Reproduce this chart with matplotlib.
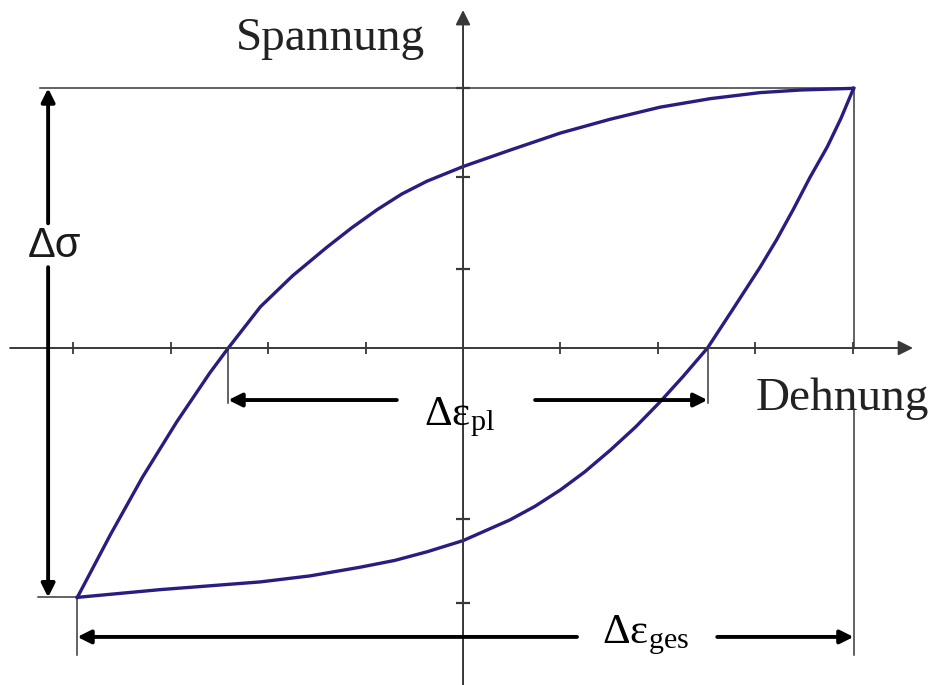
import numpy as np
import matplotlib.pyplot as plt

plt.rcParams['mathtext.fontset'] = 'custom'
plt.rcParams['mathtext.rm'] = 'Liberation Serif'

# hysteresis loop, strain (x) vs stress (y), schematic units
upper_eps = [-3.96, -3.62, -3.29, -2.94, -2.60, -2.41, -2.08, -1.75, -1.40,
             -1.14, -0.88, -0.63, -0.37, 0.00, 0.48, 1.00, 1.51, 2.02,
             2.54, 3.05, 3.46, 3.74, 4.01]
upper_sig = [-2.90, -2.17, -1.50, -0.86, -0.29, 0.00, 0.48, 0.84, 1.17,
             1.40, 1.61, 1.79, 1.94, 2.11, 2.30, 2.50, 2.66, 2.80,
             2.90, 2.97, 3.00, 3.01, 3.02]
lower_eps = [-3.96, -3.11, -2.08, -1.57, -1.06, -0.70, -0.37, 0.00, 0.48,
             0.74, 1.00, 1.25, 1.51, 1.77, 2.02, 2.26, 2.51, 2.77, 3.05,
             3.22, 3.39, 3.56, 3.74, 3.88, 4.01]
lower_sig = [-2.90, -2.81, -2.72, -2.65, -2.55, -2.47, -2.37, -2.24, -2.00,
             -1.84, -1.65, -1.44, -1.19, -0.92, -0.63, -0.33, 0.00, 0.45,
             0.94, 1.26, 1.61, 1.98, 2.34, 2.67, 3.02]

x_ticks = [-4, -3, -2, -1, 1, 2, 3, 4]
y_ticks = [3.02, 1.99, 0.92, -1.99, -2.97]

eps_pl = (-2.41, 2.51)          # zero crossings of the loop
eps_min, eps_max = -3.96, 4.01
sig_min, sig_max = -2.90, 3.02

loop_col = '#281d80'
ax_col = '#383838'

fig = plt.figure(figsize=(9.36, 6.85), dpi=100)
ax = fig.add_axes([0, 0, 1, 1])
ax.set_xlim(-4.754, 4.856)
ax.set_ylim(-3.919, 4.047)
ax.axis('off')

# coordinate axes with arrow heads
ax.annotate('', xy=(4.62, 0), xytext=(-4.65, 0),
            arrowprops=dict(arrowstyle='-|>', color=ax_col, lw=1.4,
                            mutation_scale=22, shrinkA=0, shrinkB=0))
ax.annotate('', xy=(0, 3.93), xytext=(0, -3.92),
            arrowprops=dict(arrowstyle='-|>', color=ax_col, lw=1.4,
                            mutation_scale=22, shrinkA=0, shrinkB=0))
for t in x_ticks:
    ax.plot([t, t], [-0.07, 0.07], color=ax_col, lw=1.3,
            solid_capstyle='butt')
for t in y_ticks:
    ax.plot([-0.07, 0.07], [t, t], color=ax_col, lw=1.6,
            solid_capstyle='butt')

# thin guide lines
thin = dict(color=ax_col, lw=1.1)
ax.plot([-4.34, eps_max], [sig_max, sig_max], **thin)
ax.plot([-4.36, eps_min], [sig_min, sig_min], **thin)
ax.plot([eps_max, eps_max], [sig_max, 0], **thin)
ax.plot([eps_max, eps_max], [-0.72, -3.57], **thin)
ax.plot([eps_min, eps_min], [sig_min, -3.57], **thin)
for e in eps_pl:
    ax.plot([e, e], [0, -0.64], **thin)

# the loop
ax.plot(upper_eps, upper_sig, color=loop_col, lw=2.4, solid_joinstyle='round')
ax.plot(lower_eps, lower_sig, color=loop_col, lw=2.4, solid_joinstyle='round')

# dimension arrows
dim = dict(arrowstyle='-|>', color='black', lw=2.8, mutation_scale=20,
           shrinkA=0, shrinkB=0)
x_ds = -4.26
ax.annotate('', xy=(x_ds, sig_max), xytext=(x_ds, 1.45), arrowprops=dim)
ax.annotate('', xy=(x_ds, sig_min), xytext=(x_ds, 0.94), arrowprops=dim)
ax.text(-4.19, 1.19, 'Δσ', family='Liberation Sans', fontsize=30,
        ha='center', va='center', color='#1a1a1a')

y_pl = -0.605
ax.annotate('', xy=(eps_pl[0], y_pl), xytext=(-0.68, y_pl), arrowprops=dim)
ax.annotate('', xy=(eps_pl[1], y_pl), xytext=(0.74, y_pl), arrowprops=dim)
ax.text(-0.04, -0.895, r'$\mathrm{Δε_{pl}}$', fontsize=31,
        ha='center', va='baseline', color='black')

y_ges = -3.36
ax.annotate('', xy=(eps_min, y_ges), xytext=(1.17, y_ges), arrowprops=dim)
ax.annotate('', xy=(eps_max, y_ges), xytext=(2.61, y_ges), arrowprops=dim)
ax.text(1.87, -3.43, r'$\mathrm{Δε_{ges}}$', fontsize=31,
        ha='center', va='baseline', color='black')

# axis titles
ax.text(-2.33, 3.465, 'Spannung', family='Liberation Serif', fontsize=34,
        ha='left', va='baseline', color='#222222')
ax.text(3.0, -0.72, 'Dehnung', family='Liberation Serif', fontsize=34,
        ha='left', va='baseline', color='#222222')

fig.savefig('out.png', dpi=100)
